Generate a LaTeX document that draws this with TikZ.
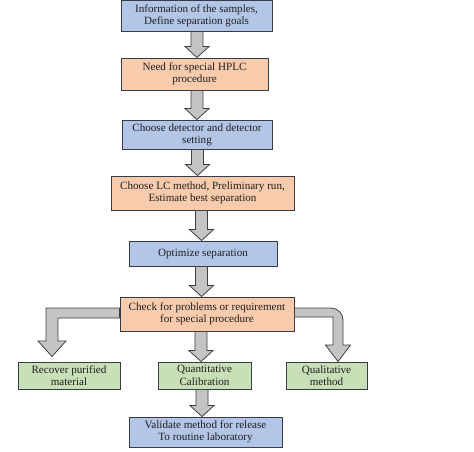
\documentclass[tikz,border=0pt]{standalone}
\usepackage{fontspec}
\setmainfont{Liberation Serif}
\usetikzlibrary{calc}
\definecolor{bxblue}{RGB}{180,198,231}
\definecolor{bxorange}{RGB}{248,203,173}
\definecolor{bxgreen}{RGB}{200,224,183}
\definecolor{arfill}{RGB}{196,196,196}
\definecolor{bxline}{RGB}{55,60,70}
\definecolor{txt}{RGB}{30,30,30}
\tikzset{
  box/.style={draw=bxline, line width=0.9pt, align=center, inner sep=0pt,
    text=txt, font=\fontsize{11.1}{12.3}\selectfont},
  bluebox/.style={box, fill=bxblue},
  orangebox/.style={box, fill=bxorange},
  greenbox/.style={box, fill=bxgreen},
  barrow/.style={fill=arfill, draw=black!75, line width=0.8pt, line join=miter}
}
\newcommand\vblock[3]{%
  \filldraw[barrow] let \p1=(#2), \p2=(#3) in
    (#1pt-6pt,\y1) -- (#1pt-6pt,\y2+11pt) -- (#1pt-12pt,\y2+11pt) -- (#1pt,\y2)
    -- (#1pt+12pt,\y2+11pt) -- (#1pt+6pt,\y2+11pt) -- (#1pt+6pt,\y1) -- cycle;}
\begin{document}
\begin{tikzpicture}[x=1pt,y=1pt]
\fill[white] (0,0) rectangle (474,-451);
\useasboundingbox (0,0) rectangle (474,-451);

\node[bluebox, minimum width=151pt, minimum height=30.5pt] (b1) at (196.5,-15.75)
  {Information of the samples,\\Define separation goals};
\node[orangebox, minimum width=147pt, minimum height=32pt] (b2) at (194.5,-74)
  {Need for special HPLC\\procedure};
\node[bluebox, minimum width=150pt, minimum height=29pt] (b3) at (197,-134.5)
  {Choose detector and detector\\setting};
\node[orangebox, minimum width=183pt, minimum height=34pt] (b4) at (202.5,-193)
  {Choose LC method, Preliminary run,\\Estimate best separation};
\node[bluebox, minimum width=148pt, minimum height=25pt] (b5) at (203,-253.5)
  {Optimize separation};
\node[orangebox, minimum width=174pt, minimum height=34pt] (chk) at (207,-314)
  {Check for problems or requirement\\for special procedure};
\node[greenbox, minimum width=102pt, minimum height=27pt] (rec) at (69,-375.5)
  {Recover purified\\material};
\node[greenbox, minimum width=93pt, minimum height=27pt] (qnt) at (204.5,-375.5)
  {Quantitative\\Calibration};
\node[greenbox, minimum width=81pt, minimum height=27pt] (qual) at (326.5,-375.5)
  {Qualitative\\method};
\node[bluebox, minimum width=153pt, minimum height=30pt] (val) at (205.5,-432)
  {Validate method for release\\To routine laboratory};

\vblock{197}{b1.south}{b2.north}
\vblock{197}{b2.south}{b3.north}
\vblock{197.5}{b3.south}{b4.north}
\vblock{201.5}{b4.south}{b5.north}
\vblock{201.5}{b5.south}{chk.north}
\vblock{201}{chk.south}{qnt.north}
\vblock{202}{qnt.south}{val.north}

\filldraw[barrow] let \p1=(chk.west), \p2=(rec.north) in
  (\x1,-308) -- (46,-308) -- (46,-341) -- (38,-341) -- (52,\y2+5pt)
  -- (66,-341) -- (58,-341) -- (58,-318) -- (\x1,-318) -- cycle;
\filldraw[barrow] let \p1=(chk.east), \p2=(qual.north) in
  (\x1,-308) -- (331,-308) arc[start angle=90, end angle=0, radius=12]
  -- (343,-345) -- (350.5,-345) -- (338,\y2) -- (325.5,-345) -- (333,-345)
  -- (333,-317) -- (\x1,-317) -- cycle;
\end{tikzpicture}
\end{document}
